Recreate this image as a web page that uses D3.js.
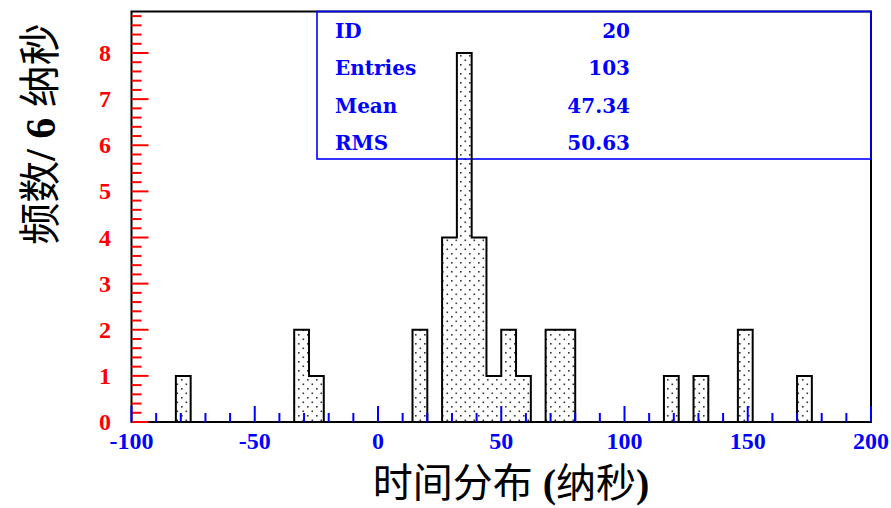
<!DOCTYPE html>
<html>
<head>
<meta charset="utf-8">
<script src="https://cdn.jsdelivr.net/npm/d3@7"></script>
<style>
  html, body { margin: 0; padding: 0; background: #fff; }
  svg { display: block; }
</style>
</head>
<body>
<svg id="chart" width="891" height="508"></svg>
<script>
// Histogram of time distribution, 6 ns bins (only non-empty bins listed)
const binLows   = [-82, -34, -28, 14, 26, 32, 38, 44, 50, 56, 68, 74, 116, 128, 146, 170];
const binCounts = [  1,   2,   1,  2,  4,  8,  4,  1,  2,  1,  2,  2,   1,   1,   2,   1];
const binWidth = 6;

const xTickLabels = [-100, -50, 0, 50, 100, 150, 200];
const yTickLabels = [0, 1, 2, 3, 4, 5, 6, 7, 8];

const statNames  = ["ID", "Entries", "Mean", "RMS"];
const statValues = ["20", "103", "47.34", "50.63"];

const xTitle = "时间分布 (纳秒)";
const yTitle = "频数/ 6 纳秒";

const svg = d3.select("#chart");
const plotL = 131.5, plotR = 871, plotT = 11.5, plotB = 422;

const x = d3.scaleLinear().domain([-100, 200]).range([plotL, plotR]);
const y = d3.scaleLinear().domain([0, 8.9]).range([plotB, plotT]);

// dotted fill pattern
const defs = svg.append("defs");
const pat = defs.append("pattern")
  .attr("id", "dots").attr("patternUnits", "userSpaceOnUse")
  .attr("width", 9).attr("height", 9);
pat.append("rect").attr("width", 9).attr("height", 9).attr("fill", "#fff");
pat.append("rect").attr("x", 1).attr("y", 1).attr("width", 1.6).attr("height", 1.6).attr("fill", "#333");
pat.append("rect").attr("x", 5.5).attr("y", 5.5).attr("width", 1.6).attr("height", 1.6).attr("fill", "#333");

// build a step outline over the full bin grid
const counts = new Map(binLows.map((b, i) => [b, binCounts[i]]));
const gridStart = -82, gridEnd = 200;
const pts = [];
let prev = 0;
for (let b = gridStart; b < gridEnd; b += binWidth) {
  const c = counts.get(b) || 0;
  if (c !== prev) {
    pts.push([x(b), y(prev)]);
    pts.push([x(b), y(c)]);
  }
  prev = c;
}
pts.push([x(gridEnd), y(prev)]);

// filled bins
svg.append("g").selectAll("rect")
  .data(binLows)
  .join("rect")
  .attr("x", d => x(d))
  .attr("width", d => x(d + binWidth) - x(d))
  .attr("y", (d, i) => y(binCounts[i]))
  .attr("height", (d, i) => y(0) - y(binCounts[i]))
  .attr("fill", "url(#dots)");

// frame
svg.append("rect")
  .attr("x", plotL).attr("y", plotT)
  .attr("width", plotR - plotL).attr("height", plotB - plotT)
  .attr("fill", "none").attr("stroke", "#000").attr("stroke-width", 2);

// statistics box
const box = svg.append("g");
box.append("rect")
  .attr("x", 317).attr("y", plotT).attr("width", plotR - 317).attr("height", 159 - plotT)
  .attr("fill", "none").attr("stroke", "#0000ff").attr("stroke-width", 1.6);
statNames.forEach((n, i) => {
  box.append("text").attr("x", 335).attr("y", 38 + i * 37.3)
    .attr("font-family", "DejaVu Serif").attr("font-weight", "bold").attr("font-size", 20)
    .attr("fill", "#0000ff").text(n);
  box.append("text").attr("x", 630).attr("y", 38 + i * 37.3)
    .attr("text-anchor", "end")
    .attr("font-family", "DejaVu Serif").attr("font-weight", "bold").attr("font-size", 20)
    .attr("fill", "#0000ff").text(statValues[i]);
});

// histogram outline
svg.append("path")
  .attr("d", d3.line()(pts))
  .attr("fill", "none").attr("stroke", "#000").attr("stroke-width", 2)
  .attr("stroke-linejoin", "miter");

// y axis ticks (red, pointing inside)
const yMinor = d3.range(0, 8.81, 0.2);
svg.append("g").selectAll("line")
  .data(yMinor)
  .join("line")
  .attr("x1", plotL).attr("x2", d => plotL + (Math.abs(d - Math.round(d)) < 1e-6 ? 17 : 10))
  .attr("y1", d => y(d)).attr("y2", d => y(d))
  .attr("stroke", "#ff0000").attr("stroke-width", 2);

svg.append("g").selectAll("text")
  .data(yTickLabels)
  .join("text")
  .attr("x", 111).attr("y", d => y(d) + 8)
  .attr("text-anchor", "end")
  .attr("font-family", "Liberation Serif").attr("font-weight", "bold").attr("font-size", 24)
  .attr("fill", "#ff0000").text(d => d);

// x axis ticks (blue, pointing up)
const xMinor = d3.range(-100, 201, 10);
svg.append("g").selectAll("line")
  .data(xMinor)
  .join("line")
  .attr("x1", d => x(d)).attr("x2", d => x(d))
  .attr("y1", plotB).attr("y2", d => plotB - (d % 50 === 0 ? 16 : 9))
  .attr("stroke", "#0000ff").attr("stroke-width", 2);

svg.append("g").selectAll("text")
  .data(xTickLabels)
  .join("text")
  .attr("x", d => x(d)).attr("y", 449)
  .attr("text-anchor", "middle")
  .attr("font-family", "Liberation Serif").attr("font-weight", "bold").attr("font-size", 24)
  .attr("fill", "#0000ff").text(d => d);

// axis titles: CJK runs in a sans CJK face, Latin runs in bold serif
function addRuns(sel, str) {
  const runs = str.match(/[\u3400-\u9fff]+|[^\u3400-\u9fff]+/g);
  runs.forEach(r => {
    const cjk = /[\u3400-\u9fff]/.test(r);
    sel.append("tspan")
      .attr("font-family", cjk ? "Noto Sans CJK SC" : "Liberation Serif")
      .attr("font-weight", cjk ? "normal" : "bold")
      .text(r);
  });
}

const xt = svg.append("text")
  .attr("x", 511).attr("y", 497)
  .attr("text-anchor", "middle")
  .attr("font-size", 40)
  .attr("fill", "#000")
  .style("white-space", "pre");
addRuns(xt, xTitle);

const yt = svg.append("text")
  .attr("transform", "translate(55,134) rotate(-90)")
  .attr("text-anchor", "middle")
  .attr("font-size", 42)
  .attr("fill", "#000")
  .style("white-space", "pre");
addRuns(yt, yTitle);
</script>
</body>
</html>
